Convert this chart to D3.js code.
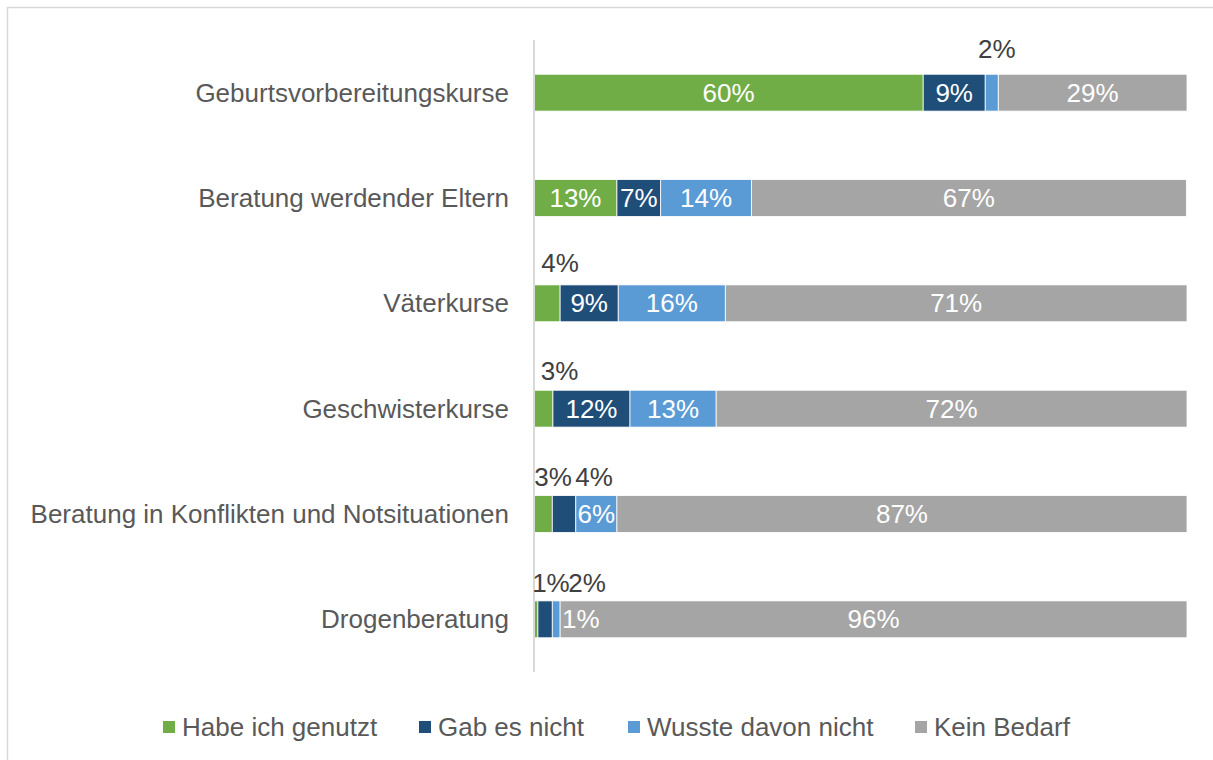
<!DOCTYPE html>
<html><head><meta charset="utf-8">
<script src="https://cdn.jsdelivr.net/npm/d3@7"></script>
<style>body{margin:0;background:#fff;} svg{display:block;font-family:"Liberation Sans",Arial,sans-serif;}</style>
</head><body>
<svg id="c" width="1213" height="760"></svg>
<script>
const categories = ["Geburtsvorbereitungskurse","Beratung werdender Eltern","Väterkurse","Geschwisterkurse","Beratung in Konflikten und Notsituationen","Drogenberatung"];
const seriesNames = ["Habe ich genutzt","Gab es nicht","Wusste davon nicht","Kein Bedarf"];
const genutzt = [59.6, 12.7, 4.0, 2.9, 2.8, 0.6];
const gabEsNicht = [9.5, 6.7, 8.9, 11.8, 3.6, 2.2];
const wussteNicht = [2.0, 13.9, 16.4, 13.2, 6.3, 1.2];
const keinBedarf = [28.9, 66.6, 70.7, 72.1, 87.3, 96.0];
const labelText = [
  ["60%","9%","2%","29%"],
  ["13%","7%","14%","67%"],
  ["4%","9%","16%","71%"],
  ["3%","12%","13%","72%"],
  ["3%","4%","6%","87%"],
  ["1%","2%","1%","96%"]
];
// label placement: "in" centered in segment, "above" above segment (shifted), "right" white text right of segment
const labelPlace = [
  ["in","in","above","in"],
  ["in","in","in","in"],
  ["above","in","in","in"],
  ["above","in","in","in"],
  ["above","above","in","in"],
  ["above","above","right","in"]
];
const labelDx = [
  [0,0,5,0],[0,0,0,0],[13,0,0,0],[16,0,0,0],[10,30,0,0],[15,42,0,0]
];
const labelGap = [16,11,13,10,10,9];
const colors = ["#70ad47","#1f4e79","#5b9bd5","#a5a5a5"];
const FS = 26;

const svg = d3.select("#c");
svg.append("rect").attr("x",7.5).attr("y",7.5).attr("width",1220).attr("height",770)
  .attr("fill","none").attr("stroke","#d9d9d9").attr("stroke-width",1.5);

const x = d3.scaleLinear().domain([0,100]).range([534,1187]);
const y = d3.scaleBand().domain(categories).range([40,672]).paddingInner(0.65).paddingOuter(0.325);

const rows = categories.map((c,i)=>({cat:c, v:[genutzt[i],gabEsNicht[i],wussteNicht[i],keinBedarf[i]]}));
const table = rows.map(r=>{const o={cat:r.cat}; seriesNames.forEach((s,j)=>o[s]=r.v[j]); return o;});
const stack = d3.stack().keys(seriesNames)(table);

// category labels
svg.append("g").selectAll("text").data(categories).join("text")
  .attr("x",509).attr("y",d=>y(d)+y.bandwidth()/2).attr("dy","0.35em")
  .attr("text-anchor","end").attr("font-size",FS).attr("fill","#595959").text(d=>d);

// bars
stack.forEach((s,j)=>{
  svg.append("g").selectAll("rect").data(s).join("rect")
    .attr("x",d=>x(d[0])).attr("y",d=>y(d.data.cat))
    .attr("width",d=>x(d[1])-x(d[0])).attr("height",y.bandwidth())
    .attr("fill",colors[j]).attr("stroke","#fff").attr("stroke-width",0.8);
});

// axis line
svg.append("line").attr("x1",534).attr("x2",534).attr("y1",40).attr("y2",672)
  .attr("stroke","#d9d9d9").attr("stroke-width",2);

// labels
stack.forEach((s,j)=>{
  s.forEach((d,i)=>{
    const place = labelPlace[i][j];
    const t = svg.append("text").attr("font-size",FS).text(labelText[i][j]);
    const cy = y(d.data.cat)+y.bandwidth()/2;
    if(place==="in"){
      t.attr("x",(x(d[0])+x(d[1]))/2).attr("y",cy).attr("dy","0.35em").attr("text-anchor","middle").attr("fill","#fff");
    } else if(place==="above"){
      t.attr("x",(x(d[0])+x(d[1]))/2+labelDx[i][j]).attr("y",y(d.data.cat)-labelGap[i]).attr("text-anchor","middle").attr("fill","#404040");
    } else {
      t.attr("x",x(d[1])+2).attr("y",cy).attr("dy","0.35em").attr("text-anchor","start").attr("fill","#fff");
    }
  });
});

// legend
const legX = [163,419,628,915];
const lg = svg.append("g");
seriesNames.forEach((s,j)=>{
  lg.append("rect").attr("x",legX[j]).attr("y",721).attr("width",12).attr("height",12).attr("fill",colors[j]);
  lg.append("text").attr("x",legX[j]+19).attr("y",727).attr("dy","0.35em").attr("font-size",FS).attr("fill","#595959").text(s);
});
</script>
</body></html>
